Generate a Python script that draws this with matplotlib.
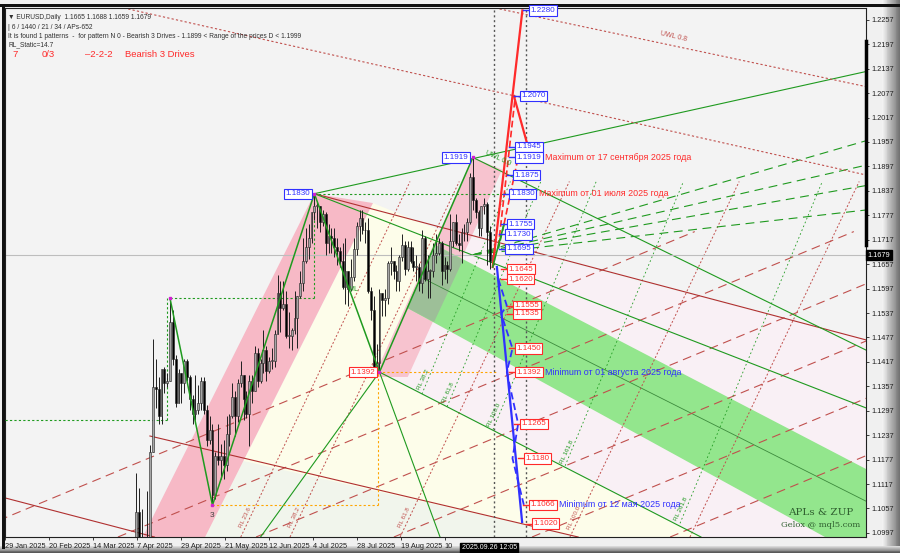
import matplotlib.pyplot as plt
from matplotlib.patches import Polygon, Rectangle
import numpy as np

plt.rcParams['font.family'] = ['Liberation Sans', 'DejaVu Sans']

# EURUSD daily candles, bar index counted from 29 Jan 2025 (bar 0)
first_bar = 44  # 1 Apr 2025
opens = [1.0790, 1.0791, 1.0853, 1.1049, 1.0960, 1.0905, 1.0957, 1.0950, 1.1195, 1.1356,
         1.1350, 1.1285, 1.1400, 1.1365, 1.1370, 1.1515, 1.1425, 1.1315, 1.1390, 1.1365,
         1.1420, 1.1380, 1.1325, 1.1290, 1.1300, 1.1315, 1.1370, 1.1300, 1.1225, 1.1250,
         1.1090, 1.1185, 1.1175, 1.1185, 1.1165, 1.1240, 1.1285, 1.1330, 1.1285, 1.1365,
         1.1385, 1.1325, 1.1290, 1.1370, 1.1345, 1.1440, 1.1370, 1.1415, 1.1445, 1.1395,
         1.1420, 1.1420, 1.1485, 1.1585, 1.1550, 1.1560, 1.1480, 1.1480, 1.1495, 1.1525,
         1.1580, 1.1610, 1.1665, 1.1700, 1.1720, 1.1785, 1.1800, 1.1800, 1.1760, 1.1780,
         1.1710, 1.1725, 1.1720, 1.1700, 1.1690, 1.1665, 1.1600, 1.1640, 1.1595, 1.1625,
         1.1695, 1.1750, 1.1770, 1.1740, 1.1740, 1.1590, 1.1545, 1.1405, 1.1415, 1.1585,
         1.1570, 1.1575, 1.1660, 1.1665, 1.1640, 1.1615, 1.1675, 1.1705, 1.1645, 1.1700,
         1.1665, 1.1650, 1.1650, 1.1610, 1.1720, 1.1620, 1.1640, 1.1640, 1.1680, 1.1685,
         1.1710, 1.1640, 1.1655, 1.1645, 1.1715, 1.1760, 1.1710, 1.1705, 1.1735, 1.1735,
         1.1760, 1.1870, 1.1815, 1.1785, 1.1745, 1.1800, 1.1805, 1.1735, 1.1665]
highs = [1.0817, 1.0880, 1.1144, 1.1107, 1.1056, 1.0980, 1.1099, 1.1214, 1.1474, 1.1424,
         1.1380, 1.1400, 1.1404, 1.1390, 1.1573, 1.1545, 1.1435, 1.1400, 1.1390, 1.1425,
         1.1425, 1.1385, 1.1335, 1.1385, 1.1360, 1.1380, 1.1380, 1.1310, 1.1285, 1.1265,
         1.1195, 1.1265, 1.1215, 1.1225, 1.1285, 1.1290, 1.1365, 1.1345, 1.1375, 1.1420,
         1.1385, 1.1345, 1.1385, 1.1385, 1.1455, 1.1450, 1.1425, 1.1495, 1.1455, 1.1430,
         1.1450, 1.1495, 1.1630, 1.1615, 1.1615, 1.1590, 1.1540, 1.1500, 1.1590, 1.1580,
         1.1640, 1.1720, 1.1745, 1.1755, 1.1785, 1.1830, 1.1810, 1.1800, 1.1790, 1.1785,
         1.1755, 1.1745, 1.1745, 1.1720, 1.1700, 1.1710, 1.1720, 1.1640, 1.1670, 1.1720,
         1.1760, 1.1790, 1.1790, 1.1760, 1.1770, 1.1600, 1.1580, 1.1460, 1.1595, 1.1585,
         1.1595, 1.1665, 1.1700, 1.1665, 1.1655, 1.1680, 1.1730, 1.1715, 1.1715, 1.1715,
         1.1700, 1.1680, 1.1660, 1.1740, 1.1725, 1.1680, 1.1645, 1.1710, 1.1730, 1.1720,
         1.1715, 1.1675, 1.1665, 1.1780, 1.1760, 1.1780, 1.1730, 1.1745, 1.1755, 1.1770,
         1.1880, 1.1919, 1.1820, 1.1790, 1.1800, 1.1820, 1.1810, 1.1750, 1.1688]
lows = [1.0777, 1.0776, 1.0853, 1.0931, 1.0880, 1.0880, 1.0945, 1.0946, 1.1195, 1.1303,
        1.1265, 1.1265, 1.1340, 1.1355, 1.1370, 1.1410, 1.1305, 1.1315, 1.1315, 1.1340,
        1.1370, 1.1300, 1.1265, 1.1275, 1.1290, 1.1300, 1.1290, 1.1210, 1.1215, 1.1065,
        1.1080, 1.1165, 1.1130, 1.1130, 1.1150, 1.1210, 1.1280, 1.1235, 1.1270, 1.1355,
        1.1275, 1.1280, 1.1210, 1.1315, 1.1345, 1.1355, 1.1365, 1.1390, 1.1370, 1.1390,
        1.1400, 1.1405, 1.1485, 1.1490, 1.1545, 1.1475, 1.1450, 1.1445, 1.1485, 1.1450,
        1.1575, 1.1590, 1.1660, 1.1670, 1.1710, 1.1765, 1.1745, 1.1735, 1.1750, 1.1680,
        1.1685, 1.1685, 1.1675, 1.1655, 1.1650, 1.1595, 1.1560, 1.1555, 1.1590, 1.1615,
        1.1680, 1.1715, 1.1730, 1.1710, 1.1585, 1.1520, 1.1400, 1.1400, 1.1392, 1.1530,
        1.1530, 1.1560, 1.1630, 1.1620, 1.1590, 1.1590, 1.1665, 1.1630, 1.1640, 1.1660,
        1.1640, 1.1615, 1.1590, 1.1585, 1.1615, 1.1575, 1.1575, 1.1625, 1.1660, 1.1680,
        1.1605, 1.1620, 1.1610, 1.1640, 1.1700, 1.1705, 1.1690, 1.1660, 1.1715, 1.1715,
        1.1755, 1.1790, 1.1770, 1.1725, 1.1725, 1.1780, 1.1655, 1.1645, 1.1659]
closes = opens[1:] + [1.1679]

# pattern pivots (bar, price)
piv_bar = [58, 73, 109, 132, 165]
piv_price = [1.1573, 1.1065, 1.1830, 1.1392, 1.1919]

# projection levels (price, bar of label box)
blue_levels = [1.2280, 1.2070, 1.1945, 1.1919, 1.1875, 1.1830, 1.1755, 1.1730, 1.1695]
blue_box_bar = [185.0, 181.7, 179.9, 179.9, 179.2, 177.8, 177.1, 176.4, 176.4]
red_levels = [1.1645, 1.1620, 1.1555, 1.1535, 1.1450, 1.1392, 1.1265, 1.1180, 1.1066, 1.1020]
red_box_bar = [177.1, 177.1, 179.2, 179.2, 179.9, 179.9, 181.7, 183.1, 185.0, 185.9]

# reaction lines: red ones start at the chart bottom, green ones on the line from pivot 4
red_rl_start = [83.0, 100.4, 139.3, 199.3, 241.7]
green_rl_start = [147.0, 155.9, 172.1, 197.6, 238.2]
rl_end_price = 1.1860

ytick_vals = [1.2257, 1.2197, 1.2137, 1.2077, 1.2017, 1.1957, 1.1897, 1.1837, 1.1777, 1.1717,
              1.1657, 1.1597, 1.1537, 1.1477, 1.1417, 1.1357, 1.1297, 1.1237, 1.1177, 1.1117,
              1.1057, 1.0997]
xtick_labels = ['29 Jan 2025', '20 Feb 2025', '14 Mar 2025', '7 Apr 2025', '29 Apr 2025',
                '21 May 2025', '12 Jun 2025', '4 Jul 2025', '28 Jul 2025', '19 Aug 2025', '10']
xtick_pos = [-0.3, 15.2, 30.7, 46.3, 61.8, 77.4, 92.9, 108.5, 124.0, 139.6, 155.1]
current_price = 1.1679
current_bar = 172.5
future_bar = 183.8

bg = '#f3f3f3'
red = '#ff2a2a'
blue = '#3030ff'
green = '#1f9a1f'
dred = '#c0504d'
XL, XR, YB, YT = -0.3, 303.9, 1.0987, 1.2286

fig = plt.figure(figsize=(9, 5.53), dpi=100, facecolor='#f0f0f0')

# window frame: gradient strips at right and bottom, black border
frame = fig.add_axes([0, 0, 1, 1], zorder=-5)
frame.set_xlim(0, 900)
frame.set_ylim(553, 0)
frame.axis('off')
for k, g in enumerate(np.linspace(0.95, 0.45, 20)):
    frame.add_patch(Rectangle((882 + k * 0.9, 0), 1, 553, color=str(g), lw=0))
for k, g in enumerate(np.linspace(0.85, 0.35, 8)):
    frame.add_patch(Rectangle((0, 546 + k * 0.9), 900, 1, color=str(g), lw=0))
frame.add_patch(Rectangle((0, 4), 900, 3, color='#111111', lw=0))
frame.add_patch(Rectangle((2, 4), 3, 545, color='#111111', lw=0))

ax = fig.add_axes([5 / 900, 16 / 553, 861 / 900, 529 / 553])
ax.set_facecolor(bg)
ax.set_xlim(XL, XR)
ax.set_ylim(YB, YT)


def line(p0, p1, **kw):
    ax.plot([p0[0], p1[0]], [p0[1], p1[1]], **kw)


def zone(pts, color, z=0):
    ax.add_patch(Polygon(pts, closed=True, facecolor=color, edgecolor='none', zorder=z))


# --- coloured zones ---
zone([(129.7, 1.1807), (153.7, 1.1739), (131.5, 1.1392), (245.6, YB), (70.4, YB)], '#fdfdea')
zone([(153.7, 1.1739), (XR, 1.1471), (XR, YB), (245.6, YB), (131.5, 1.1392)], '#f9f0f5')
zone([(83.8, 1.1174), (202.2, YB), (70.4, YB)], '#f1f5ec')
zone([(48.4, YB), (109, 1.1830), (129.7, 1.1807), (70.4, YB)], '#f7b9c6', 1)
zone([(130, 1.1380), (165, 1.1919), (175.3, 1.1889), (142, 1.1380)], '#f7c3cf', 1)
zone([(151.6, 1.1705), (XR, 1.1154), (XR, YB), (289.4, YB), (141.7, 1.1550)], '#93e68d', 1)
zone([(151.6, 1.1704), (161.5, 1.1667), (151.3, 1.1515), (141.7, 1.1550)], '#9dbf98', 1)
line((146.3, 1.1626), (XR, 1.1075), color='#3c8a3c', lw=0.6, zorder=2)

# --- fan / channel lines ---
for b0 in [-16.6, 39.6, 88.4, 137.1, 185.9, 234.7]:
    line((b0, YB), (b0 + 260, YB + 0.075), color=dred, lw=0.8, ls=(0, (8, 5)), zorder=2)
red_slope = 0.00146    # price per bar
green_slope = 0.00167
p4_slope = 0.000348
for b0 in red_rl_start:
    line((b0, YB), (b0 + (rl_end_price - YB) / red_slope, rl_end_price),
         color=dred, lw=0.7, ls=(0, (2, 2)), zorder=2)
for b0 in green_rl_start:
    p0 = 1.1392 - (b0 - 131.5) * p4_slope
    line((b0, p0), (b0 + (rl_end_price - p0) / green_slope, rl_end_price),
         color=green, lw=0.6, ls=(0, (2, 3)), zorder=2)
for p_end in [1.1960, 1.1900, 1.1850, 1.1790]:
    line((165, 1.1680), (XR, p_end), color=green, lw=0.8, ls=(0, (8, 5)), zorder=2)
line((109, 1.1830), (XR, 1.2130), color=green, lw=0.8, zorder=2)
line((109, 1.1830), (XR, 1.1471), color='#b03030', lw=0.8, zorder=2)
line((50.9, 1.1235), (202.2, YB), color='#b03030', lw=0.8, zorder=2)
line((XL, 1.1083), (52.5, YB), color='#b03030', lw=0.8, zorder=2)
line((109, 1.1830), (XR, 1.1304), color=green, lw=0.8, zorder=2)
line((165, 1.1919), (XR, 1.1446), color=green, lw=0.8, zorder=2)
line((132, 1.1392), (153.4, YB), color=green, lw=0.8, zorder=2)
line((132, 1.1392), (245.6, YB), color=green, lw=0.8, zorder=2)
line((132, 1.1392), (90, YB), color=green, lw=0.8, zorder=2)
line((172.9, YT), (XR, 1.2093), color=dred, lw=0.8, ls=(0, (2, 2)), zorder=2)
line((41.7, YT), (XR, 1.1876), color=dred, lw=0.8, ls=(0, (2, 2)), zorder=2)

# dotted helper lines
line((58, 1.1573), (109, 1.1573), color=green, lw=0.8, ls=(0, (2, 2)), zorder=3)
line((109, 1.1573), (109, 1.1830), color=green, lw=0.8, ls=(0, (2, 2)), zorder=3)
line((109, 1.1830), (178, 1.1830), color=green, lw=0.8, ls=(0, (2, 2)), zorder=3)
line((XL, 1.1275), (57, 1.1275), color=green, lw=0.8, ls=(0, (2, 2)), zorder=3)
line((57, 1.1275), (57, 1.1573), color=green, lw=0.8, ls=(0, (2, 2)), zorder=3)
line((73, 1.1065), (131.5, 1.1065), color='orange', lw=0.8, ls=(0, (2, 2)), zorder=3)
line((131.5, 1.1065), (131.5, 1.1392), color='orange', lw=0.8, ls=(0, (2, 2)), zorder=3)
line((131.5, 1.1392), (174, 1.1392), color='orange', lw=0.8, ls=(0, (2, 2)), zorder=3)

# current price line and time lines
ax.axhline(current_price, color='#bdbdbd', lw=0.8, zorder=2)
ax.axvline(current_bar, color='#555555', lw=1.0, ls=(0, (1.5, 2)), zorder=3)
ax.axvline(future_bar, color='#555555', lw=1.0, ls=(0, (1.5, 2)), zorder=3)

# --- candles ---
for i, (o, h, l, c) in enumerate(zip(opens, highs, lows, closes)):
    b = first_bar + i
    bull = c >= o
    ax.vlines(b, l, h, color='#202020', lw=0.7, zorder=4)
    ax.add_patch(Rectangle((b - 0.33, min(o, c)), 0.66, max(abs(c - o), 0.0002),
                           facecolor='#a6a6a6' if bull else '#000000',
                           edgecolor='#202020', lw=0.4, zorder=5))

# pattern zigzag
ax.plot(piv_bar, piv_price, color=green, lw=1.1, zorder=6)
ax.plot(piv_bar, piv_price, 's', color='#d020d0', ms=1.5, zorder=7)

# --- projection lines ---
line((172, 1.1650), (182.5, 1.2280), color=red, lw=1.6, zorder=6)
line((179.5, 1.2070), (184.5, 1.1945), color=red, lw=1.6, zorder=6)
line((174, 1.1700), (180, 1.2070), color=red, lw=1.2, ls=(0, (4, 2)), zorder=6)
line((176, 1.1755), (181, 1.1919), color=red, lw=1.2, ls=(0, (4, 2)), zorder=6)
line((172, 1.1650), (176, 1.1755), color=green, lw=1.2, zorder=6)
line((176, 1.1755), (174, 1.1695), color=green, lw=1.2, ls=(0, (4, 2)), zorder=6)
line((173.5, 1.1650), (182.4, 1.1024), color=blue, lw=1.6, zorder=6)
ax.plot([174, 177, 175, 179, 177, 181, 179, 183], [1.1620, 1.1555, 1.1535, 1.1450, 1.1392,
        1.1265, 1.1180, 1.1066], color=blue, lw=1.3, ls=(0, (4, 2)), zorder=6)

# --- level boxes ---
box_kw = dict(fontsize=5.8, va='center', zorder=9)


def level_box(bar, price, color, ha='left'):
    if ha == 'left':
        ax.plot([bar - 2.2, bar], [price, price], color=color, lw=1.0, zorder=8)
        bar += 0.4
    ax.text(bar, price, f'{price:.4f}', color=color, ha=ha,
            bbox=dict(boxstyle='square,pad=0.2', fc='white', ec=color, lw=0.8), **box_kw)


for p, b in zip(blue_levels, blue_box_bar):
    level_box(b, p, blue)
for p, b in zip(red_levels, red_box_bar):
    level_box(b, p, red)
level_box(107.5, 1.1830, blue, ha='right')
level_box(163.5, 1.1919, blue, ha='right')
level_box(130.5, 1.1392, red, ha='right')
ax.text(73, 1.1040, '3', fontsize=6, color='#404040', ha='center', va='center', zorder=9)

note_kw = dict(fontsize=6.4, va='center', zorder=9)
ax.text(190.5, 1.1919, 'Maximum от 17 сентября 2025 года', color=red, **note_kw)
ax.text(188.5, 1.1830, 'Maximum от 01 июля 2025 года', color=red, **note_kw)
ax.text(190.5, 1.1392, 'Minimum от 01 августа 2025 года', color=blue, **note_kw)
ax.text(195.5, 1.1066, 'Minimum от 12 мая 2025 года', color=blue, **note_kw)

ax.text(231, 1.2205, 'UWL 0.8', fontsize=5, color=dred, rotation=-13, zorder=9)
ax.text(169, 1.1900, 'UWL 0.0', fontsize=5, color=green, rotation=-25, zorder=9)
ax.text(121, 1.1590, 'ML', fontsize=5, color=green, zorder=9)
ax.text(288, 1.1040, 'APLs & ZUP', fontsize=7.5, color='#2f5f2f', family='serif', ha='center', zorder=9)
ax.text(288, 1.1012, 'Gelox @ mql5.com', fontsize=6, color='#2f5f2f', family='serif', ha='center', zorder=9)
for b0, s in zip(red_rl_start[:4], ['RL 23.6', 'RL 38.2', 'RL 61.8', 'RL 100.0']):
    ax.text(b0 + 1.5, 1.1035, s, fontsize=4.5, color=dred, rotation=65, ha='center', va='center', zorder=9)
for b0, s in zip(green_rl_start, ['RL 38.2', 'RL 61.8', 'RL 100.0', 'RL 161.8', 'RL 261.8']):
    p0 = 1.1392 - (b0 - 131.5) * p4_slope
    ax.text(b0 + 0.5, p0 + 0.0035, s, fontsize=4.5, color=green, rotation=65, ha='center', va='center', zorder=9)

# header texts
hdr = dict(transform=ax.transAxes, fontsize=4.75, color='#303030', va='center', zorder=10)
ax.text(0.004, 0.982, '▼ EURUSD,Daily  1.1665 1.1688 1.1659 1.1679', **hdr)
ax.text(0.004, 0.964, '| 6 / 1440 / 21 / 34 / APs-652', **hdr)
ax.text(0.004, 0.947, 'It is found 1 patterns  -  for pattern N 0 - Bearish 3 Drives - 1.1899 < Range of the prices D < 1.1999', **hdr)
ax.text(0.004, 0.930, 'RL_Static=14.7', **hdr)
for xx, s in [(0.009, '7'), (0.043, '0/3'), (0.093, '–2-2-2'), (0.139, 'Bearish 3 Drives')]:
    ax.text(xx, 0.912, s, transform=ax.transAxes, fontsize=6.8, color=red, va='center', zorder=10)

# axes styling
ax.yaxis.tick_right()
ax.set_yticks(ytick_vals)
ax.set_yticklabels([f'{v:.4f}' for v in ytick_vals], fontsize=5.3, color='#202020')
ax.set_xticks(xtick_pos)
ax.set_xticklabels(xtick_labels, fontsize=5.3, color='#202020', ha='left')
ax.tick_params(length=2.5, width=0.6, pad=1.5, colors='#202020')
for s in ax.spines.values():
    s.set_color('#202020')
    s.set_linewidth(0.8)
ax.text(1.002, current_price, f'{current_price:.4f}', transform=ax.get_yaxis_transform(),
        fontsize=5.3, color='white', va='center', ha='left', zorder=10,
        bbox=dict(boxstyle='square,pad=0.2', fc='black', ec='black'))
ax.text(161.0, 1.0960, '2025.09.26 12:05', fontsize=5.0, color='white', va='center',
        clip_on=False, bbox=dict(boxstyle='square,pad=0.25', fc='black', ec='black'), zorder=10)
ax.plot([XR, XR], [1.1705, 1.2205], color='black', lw=2.5, clip_on=False, zorder=10)

fig.savefig('out.png', dpi=100, facecolor=fig.get_facecolor())
